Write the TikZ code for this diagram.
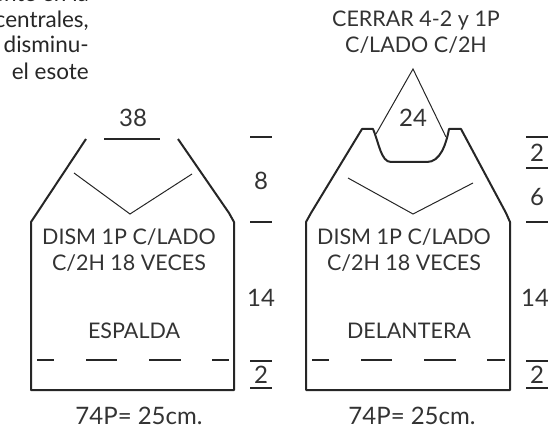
\documentclass[tikz,border=0pt]{standalone}
\usepackage{fontspec}
\setmainfont{Lato}
\tikzset{
  x=1pt,y=-1pt,
  thickline/.style={draw=black!85,line width=2pt,line join=round},
  thinline/.style={draw=black!85,line width=1pt},
  tick/.style={draw=black!85,line width=1.3pt},
  lbl/.style={font=\fontsize{21.5}{25}\selectfont,text=black!80,inner sep=0pt,align=center},
  num/.style={font=\fontsize{24}{28}\selectfont,text=black!80,inner sep=0pt,align=center},
  para/.style={font=\fontsize{22.5}{25}\selectfont,text=black!85,inner sep=0pt,anchor=base east}
}
\begin{document}
\begin{tikzpicture}
\useasboundingbox (0,0) rectangle (548,430);
\begin{scope}
\clip (0,0) rectangle (548,430);
\node[para] (p0) at (89,2) {ente en la};
\node[para] (p1) at (89,28) {centrales,};
\node[para] (p2) at (89,53) {disminu-};
\node[para] (p3) at (89,80) {el esote};
\end{scope}
% left piece
\draw[thickline] (86,139) -- (37,213) -- (31,222) -- (31,390) -- (234,390) -- (234,222) -- (229,213) -- (178,139);
\draw[thickline] (104,139) -- (160,139);
\draw[thickline,line width=2.6pt] (129,390) -- (136,390);
\draw[thinline] (74,173) -- (130,214) -- (192,174);
\foreach \a/\b in {37/54,86/117,149/181,212/229} \draw[tick] (\a,360) -- (\b,360);
\foreach \y in {137,222,361,388} \draw[tick] (250,\y) -- (272,\y);
\node[num] (t38) at (133,118) {38};
\node[num] (t8) at (261,181) {8};
\node[num] (t14a) at (261,298) {14};
\node[num] (t2a) at (261,375) {2};
\node[lbl] (d1) at (129,250) {DISM 1P C/LADO\\[1pt]C/2H 18 VECES};
\node[lbl] (esp) at (134,331) {ESPALDA};
\node[num] (w1) at (139,416) {74P= 25cm.};
% right piece
\draw[thickline] (362,129) -- (311,213) -- (306,222) -- (306,390) -- (510,390) -- (510,222) -- (506,213) -- (461,129) -- (449,129)
  .. controls (446,145) and (440,162) .. (427,162) -- (391,162) .. controls (381,162) and (379,143) .. (373,129) -- cycle;
\draw[thickline,line width=2.6pt] (405,390) -- (411,390);
\draw[thinline] (376,134) -- (413,69) -- (446,137);
\draw[thinline] (348,178) -- (413,214) -- (473,183);
\foreach \a/\b in {312/329,361/392,424/456,487/505} \draw[tick] (\a,360) -- (\b,360);
\foreach \y in {137,168,222,361,388} \draw[tick] (526,\y) -- (548,\y);
\node[num] (t24) at (413,118) {24};
\node[lbl] (cer) at (416,32) {CERRAR 4-2 y 1P\\[1pt]C/LADO C/2H};
\node[num] (t2b) at (537,153) {2};
\node[num] (t6) at (537,197) {6};
\node[num] (t14b) at (535,298) {14};
\node[num] (t2c) at (537,375) {2};
\node[lbl] (d2) at (404,250) {DISM 1P C/LADO\\[1pt]C/2H 18 VECES};
\node[lbl] (del) at (409,331) {DELANTERA};
\node[num] (w2) at (412,416) {74P= 25cm.};
\end{tikzpicture}
\end{document}
